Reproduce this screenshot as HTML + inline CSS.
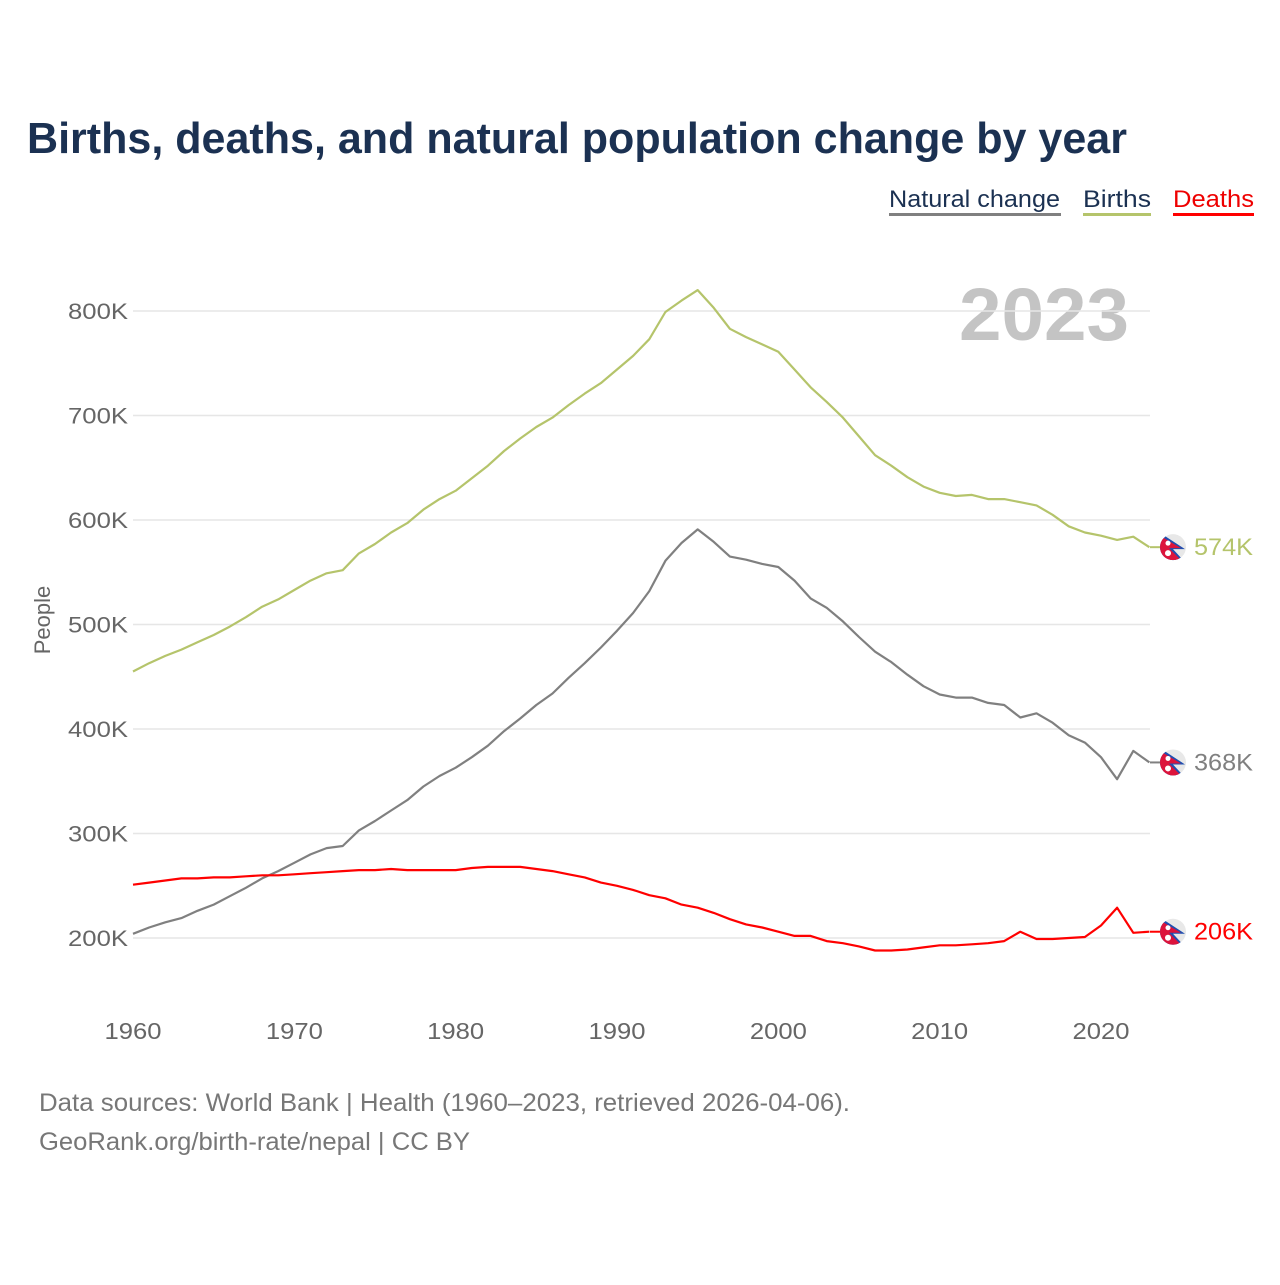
<!DOCTYPE html>
<html><head><meta charset="utf-8"><style>
body{margin:0;background:#fff;width:1280px;height:1280px;overflow:hidden;font-family:"Liberation Sans",sans-serif}
</style></head><body>
<svg id="chart" width="1280" height="1280" xmlns="http://www.w3.org/2000/svg" font-family="Liberation Sans, sans-serif">
<text x="27" y="153" font-size="44" font-weight="bold" fill="#1b3152" textLength="1100" lengthAdjust="spacingAndGlyphs">Births, deaths, and natural population change by year</text>
<g font-size="24">
<text x="889" y="207" fill="#1b3152" textLength="171" lengthAdjust="spacingAndGlyphs">Natural change</text>
<rect x="889" y="213" width="172" height="3" fill="#808080"/>
<text x="1083" y="207" fill="#1b3152" textLength="68" lengthAdjust="spacingAndGlyphs">Births</text>
<rect x="1083" y="213" width="68" height="3" fill="#b5c46b"/>
<text x="1173" y="207" fill="#e00" textLength="81" lengthAdjust="spacingAndGlyphs">Deaths</text>
<rect x="1173" y="213" width="81" height="3" fill="#f00"/>
</g>
<text x="1129" y="340" font-size="74" font-weight="bold" fill="#c4c4c4" text-anchor="end" textLength="170" lengthAdjust="spacingAndGlyphs">2023</text>
<text transform="translate(50,620) rotate(-90)" font-size="22" fill="#666" text-anchor="middle">People</text>
<g id="grid"></g><g id="ylabels"></g><g id="xlabels"></g><g id="lines"></g><g id="ends"></g>
<text x="39" y="1111" font-size="25" fill="#777" textLength="811" lengthAdjust="spacingAndGlyphs">Data sources: World Bank | Health (1960–2023, retrieved 2026-04-06).</text>
<text x="39" y="1150" font-size="25" fill="#777" textLength="431" lengthAdjust="spacingAndGlyphs">GeoRank.org/birth-rate/nepal | CC BY</text>
</svg>
<script>
const years=[];for(let y=1960;y<=2023;y++)years.push(y);
const births=[455,463,470,476,483,490,498,507,517,524,533,542,549,552,568,577,588,597,610,620,628,640,652,666,678,689,698,710,721,731,744,757,773,799,810,820,803,783,775,768,761,744,727,713,698,680,662,652,641,632,626,623,624,620,620,617,614,605,594,588,585,581,584,574];
const deaths=[251,253,255,257,257,258,258,259,260,260,261,262,263,264,265,265,266,265,265,265,265,267,268,268,268,266,264,261,258,253,250,246,241,238,232,229,224,218,213,210,206,202,202,197,195,192,188,188,189,191,193,193,194,195,197,206,199,199,200,201,212,229,205,206];
const natural=[204,210,215,219,226,232,240,248,257,264,272,280,286,288,303,312,322,332,345,355,363,373,384,398,410,423,434,449,463,478,494,511,532,561,578,591,579,565,562,558,555,542,525,516,503,488,474,464,452,441,433,430,430,425,423,411,415,406,394,387,373,352,379,368];
const yTicks=[200,300,400,500,600,700,800];
const xTicks=[1960,1970,1980,1990,2000,2010,2020];
const NS="http://www.w3.org/2000/svg";
const x=v=>133+(v-1960)*(968/60);
const y=v=>938-(v-200)*(627/600);
function mk(t,a,parent){const e=document.createElementNS(NS,t);for(const k in a)e.setAttribute(k,a[k]);document.getElementById(parent).appendChild(e);return e;}
yTicks.forEach(t=>{
 const g=mk('line',{x1:133,x2:1150,y1:y(t),y2:y(t),stroke:'#e6e6e6','stroke-width':1.5},'grid');
 
 
 const l=mk('text',{x:128,y:y(t)+8,'font-size':22,fill:'#666','text-anchor':'end',textLength:60,lengthAdjust:'spacingAndGlyphs'},'ylabels');
 l.textContent=t+'K';
 
 
});
xTicks.forEach(t=>{
 const l=mk('text',{x:x(t),y:1039,'font-size':23,fill:'#666','text-anchor':'middle',textLength:57,lengthAdjust:'spacingAndGlyphs'},'xlabels');
 l.textContent=t;
 
 
});
function line(data,color,name){
 const d=data.map((v,i)=>(i?'L':'M')+x(years[i]).toFixed(1)+' '+y(v).toFixed(1)).join(' ');
 const p=mk('path',{d:d,fill:'none',stroke:color,'stroke-width':2.2,'stroke-linejoin':'round'},'lines');
 
 
 const v=data[data.length-1],yy=y(v);
 const seg=mk('line',{x1:1150,x2:1160,y1:yy,y2:yy,stroke:color,'stroke-width':2},'ends');
 
 
 const g=mk('g',{transform:'translate(1173,'+yy+')'},'ends');
 
 
 g.innerHTML='<circle r="13" fill="#e8e8e8"/><clipPath id="c'+name+'"><circle r="13"/></clipPath><g clip-path="url(#c'+name+')"><path d="M-14,-15 L12,2 L0,2 L12,15 L-14,15 Z" fill="#1f4fb0"/><path d="M-14,-12 L8,1 L-4,1 L8,13 L-14,13 Z" fill="#dc143c"/><circle cx="-5" cy="-4" r="2.5" fill="#fff"/><circle cx="-5" cy="6" r="3" fill="#fff"/></g>';
 const t=mk('text',{x:1194,y:yy+8,'font-size':24,fill:color,textLength:59,lengthAdjust:'spacingAndGlyphs'},'ends');
 t.textContent=v+'K';
 
 
}
line(births,'#b5c46b','births');
line(natural,'#808080','natural-change');
line(deaths,'#ff0000','deaths');
</script>
</body></html>
